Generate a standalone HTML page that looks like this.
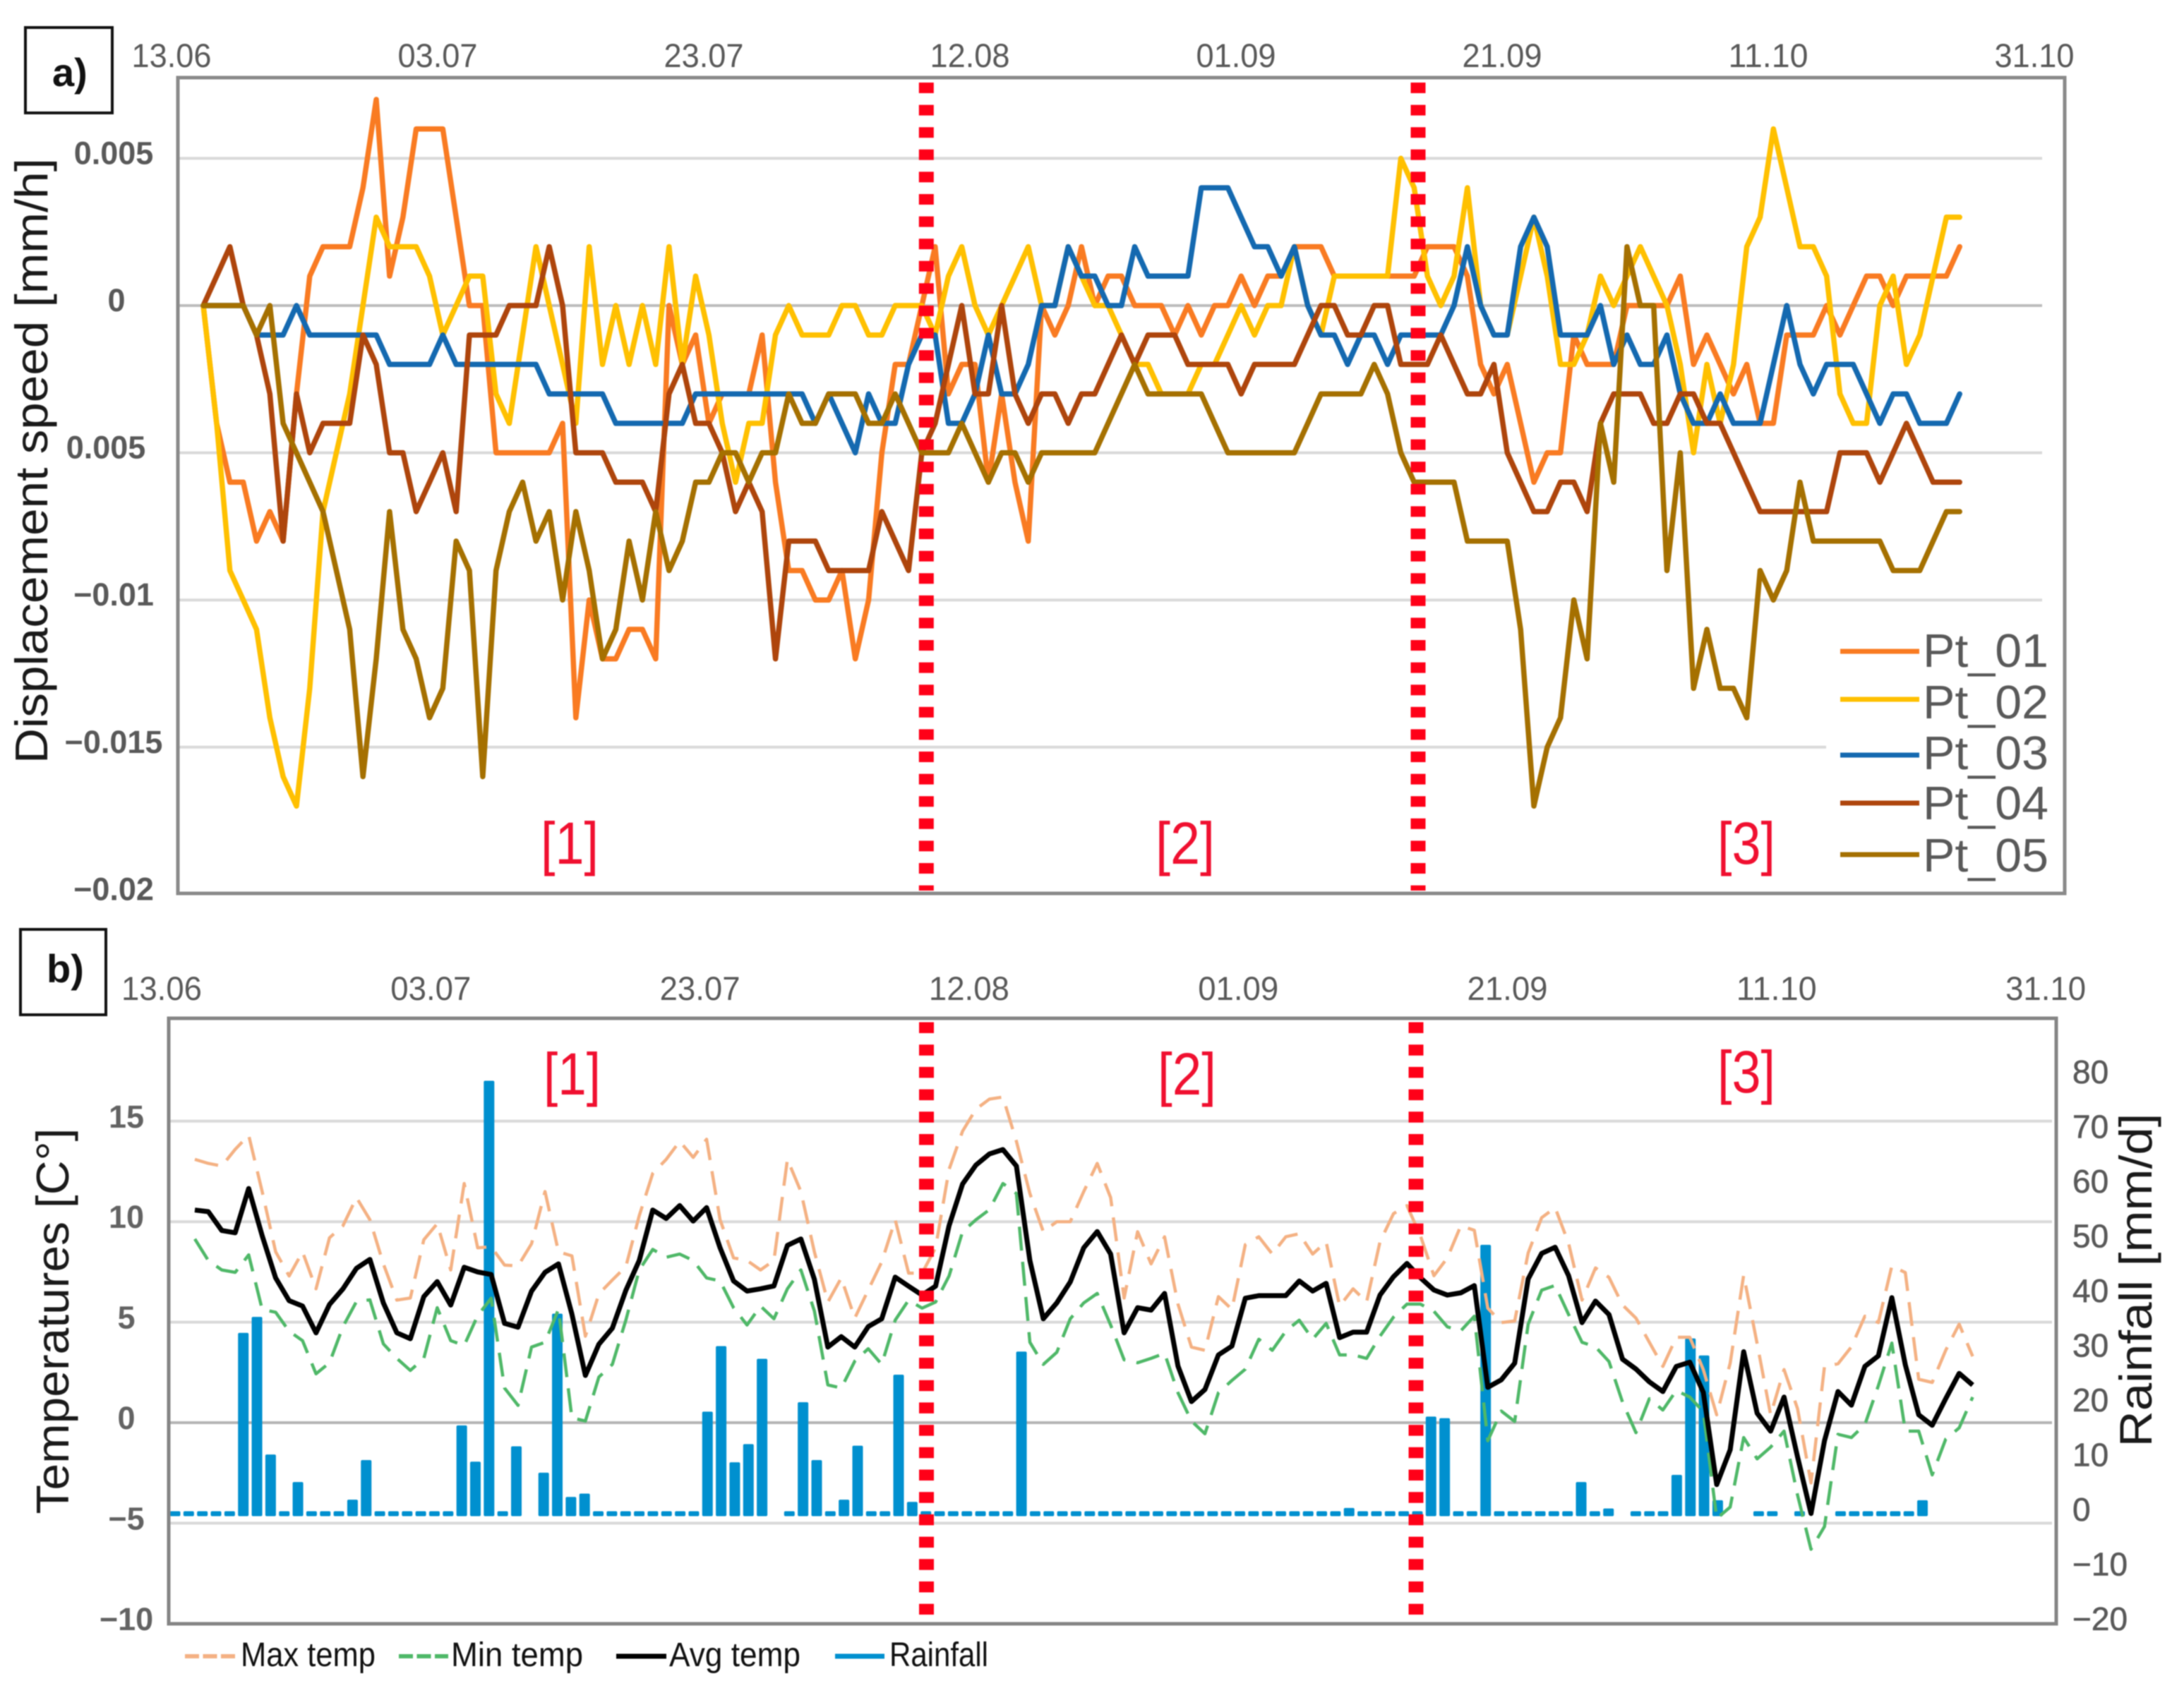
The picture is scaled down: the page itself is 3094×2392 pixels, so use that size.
<!DOCTYPE html>
<html lang="en">
<head>
<meta charset="utf-8">
<title>Displacement speed and temperature charts</title>
<style>
html,body{margin:0;padding:0;background:#fff;}
svg{display:block;font-family:"Liberation Sans",Arial,sans-serif;filter:blur(0.7px);}
.date{font-size:47px;fill:#595959;text-anchor:middle;}
.tick-a{font-size:45px;font-weight:bold;fill:#595959;text-anchor:middle;}
.tick-b{font-size:45px;font-weight:bold;fill:#636363;text-anchor:middle;}
.tick-r{font-size:46px;fill:#595959;stroke:#595959;stroke-width:.6;text-anchor:start;}
.title{font-size:65px;fill:#1a1a1a;text-anchor:middle;}
.phase{font-size:84px;fill:#f01030;}
.leg-a{font-size:67px;fill:#595959;}
.leg-b{font-size:48px;fill:#111;}
.panel{font-size:56px;font-weight:bold;fill:#111;}
</style>
</head>
<body>
<svg id="fig" xmlns="http://www.w3.org/2000/svg" width="3094" height="2392" viewBox="0 0 3094 2392">
  <rect x="0" y="0" width="3094" height="2392" fill="#fff"/>

  <g id="gridA"></g>
  <g id="seriesA"></g>
  <rect x="2587" y="880" width="300" height="378" fill="#fff"/>
  <g id="marksA"></g>
  <rect x="252" y="110" width="2673" height="1156" fill="none" stroke="#8a8a8a" stroke-width="5"/>
  <g id="ticksA"></g>
  <g id="datesA"></g>

  <rect x="36" y="39" width="123" height="121" fill="#fff" stroke="#111" stroke-width="4"/>
  <text class="panel" x="74" y="122">a)</text>
  <text class="title" transform="translate(67,653) rotate(-90)" textLength="858" lengthAdjust="spacingAndGlyphs">Displacement speed [mm/h]</text>
  <text class="phase" x="766" y="1224" textLength="82" lengthAdjust="spacingAndGlyphs">[1]</text>
  <text class="phase" x="1637" y="1224" textLength="84" lengthAdjust="spacingAndGlyphs">[2]</text>
  <text class="phase" x="2433" y="1224" textLength="82" lengthAdjust="spacingAndGlyphs">[3]</text>

  <g>
    <line x1="2607" x2="2719" y1="923" y2="923" stroke="#F97B22" stroke-width="7"/>
    <text class="leg-a" x="2724" y="945" textLength="178" lengthAdjust="spacingAndGlyphs">Pt_01</text>
    <line x1="2607" x2="2719" y1="991" y2="991" stroke="#FFC000" stroke-width="7"/>
    <text class="leg-a" x="2724" y="1018" textLength="178" lengthAdjust="spacingAndGlyphs">Pt_02</text>
    <line x1="2607" x2="2719" y1="1070" y2="1070" stroke="#1469B0" stroke-width="7"/>
    <text class="leg-a" x="2724" y="1090" textLength="178" lengthAdjust="spacingAndGlyphs">Pt_03</text>
    <line x1="2607" x2="2719" y1="1138" y2="1138" stroke="#AE450C" stroke-width="7"/>
    <text class="leg-a" x="2724" y="1161" textLength="178" lengthAdjust="spacingAndGlyphs">Pt_04</text>
    <line x1="2607" x2="2719" y1="1211" y2="1211" stroke="#A57000" stroke-width="7"/>
    <text class="leg-a" x="2724" y="1235" textLength="178" lengthAdjust="spacingAndGlyphs">Pt_05</text>
  </g>

  <g id="gridB"></g>
  <g id="barsB"></g>
  <g id="seriesB"></g>
  <g id="marksB"></g>
  <rect x="239" y="1443" width="2674" height="858" fill="none" stroke="#858585" stroke-width="5"/>
  <g id="ticksB"></g>
  <g id="ticksR"></g>
  <g id="datesB"></g>

  <rect x="29" y="1317" width="121" height="121" fill="#fff" stroke="#111" stroke-width="4"/>
  <text class="panel" x="66" y="1392">b)</text>
  <text class="title" transform="translate(97,1872) rotate(-90)" textLength="547" lengthAdjust="spacingAndGlyphs">Temperatures [C°]</text>
  <text class="title" transform="translate(3048,1814) rotate(-90)" textLength="473" lengthAdjust="spacingAndGlyphs">Rainfall [mm/d]</text>
  <text class="phase" x="770" y="1551" textLength="81" lengthAdjust="spacingAndGlyphs">[1]</text>
  <text class="phase" x="1640" y="1551" textLength="83" lengthAdjust="spacingAndGlyphs">[2]</text>
  <text class="phase" x="2433" y="1548" textLength="82" lengthAdjust="spacingAndGlyphs">[3]</text>

  <g>
    <line x1="262" x2="333" y1="2347" y2="2347" stroke="#F4B183" stroke-width="6" stroke-dasharray="20 5.5"/>
    <text class="leg-b" x="341" y="2361" textLength="191" lengthAdjust="spacingAndGlyphs">Max temp</text>
    <line x1="565" x2="635" y1="2347" y2="2347" stroke="#4FB868" stroke-width="6" stroke-dasharray="20 5.5"/>
    <text class="leg-b" x="639" y="2361" textLength="187" lengthAdjust="spacingAndGlyphs">Min temp</text>
    <line x1="873" x2="944" y1="2347" y2="2347" stroke="#000" stroke-width="7"/>
    <text class="leg-b" x="948" y="2361" textLength="186" lengthAdjust="spacingAndGlyphs">Avg temp</text>
    <line x1="1183" x2="1253" y1="2347" y2="2347" stroke="#0090CF" stroke-width="7"/>
    <text class="leg-b" x="1260" y="2361" textLength="140" lengthAdjust="spacingAndGlyphs">Rainfall</text>
  </g>
</svg>
<script>
// Panel a: displacement speed, in thousandths of mm/h
const pt01 = [0,-4,-6,-6,-8,-7,-8,-3,1,2, 2,2,4,7,1,3,6,6,6,3, 0,0,-5,-5,-5,-5,-5,-4,-14,-10, -12,-12,-11,-11,-12,0,-2,-1,-4,-3, -3,-3,-1,-6,-9,-9,-10,-10,-9,-12, -10,-5,-2,-2,0,2,-3,-2,-2,-6, -3,-6,-8,0,-1,0,2,0,1,1, 0,0,0,-1,0,-1,0,0,1,0, 1,1,2,2,2,1,1,1,1,1, 1,1,2,2,2,1,-2,-3,-2,-4, -6,-5,-5,-1,-2,-2,-2,0,0,0, 0,1,-2,-1,-2,-3,-2,-4,-4,-1, -1,-1,0,-1,0,1,1,0,1,1, 1,1,2];
const pt02 = [0,-4,-9,-10,-11,-14,-16,-17,-13,-7, -5,-3,0,3,2,2,2,1,-1,0, 1,1,-3,-4,-1,2,0,-2,-4,2, -2,0,-2,0,-2,2,-2,1,-1,-4, -6,-4,-4,-1,0,-1,-1,-1,0,0, -1,-1,0,0,0,-1,1,2,0,-1, 0,1,2,0,0,2,1,0,0,-1, -2,-2,-3,-3,-3,-2,-2,-1,0,-1, 0,0,2,0,-1,1,1,1,1,1, 5,4,1,0,1,4,0,-1,-1,1, 3,1,-2,-2,-1,1,0,1,2,1, 0,-2,-5,-2,-4,-2,2,3,6,4, 2,2,1,-3,-4,-4,0,1,-2,-1, 1,3,3];
const pt03 = [0,0,0,0,-1,-1,-1,0,-1,-1, -1,-1,-1,-1,-2,-2,-2,-2,-1,-2, -2,-2,-2,-2,-2,-2,-3,-3,-3,-3, -3,-4,-4,-4,-4,-4,-4,-3,-3,-3, -3,-3,-3,-3,-3,-3,-4,-3,-4,-5, -3,-4,-4,-2,-1,-1,-4,-4,-3,-1, -3,-3,-2,0,0,2,1,1,0,0, 2,1,1,1,1,4,4,4,3,2, 2,1,2,0,-1,-1,-2,-1,-1,-2, -1,-1,-1,-1,0,2,0,-1,-1,2, 3,2,-1,-1,-1,0,-2,-1,-2,-2, -1,-3,-4,-4,-3,-4,-4,-4,-2,0, -2,-3,-2,-2,-2,-3,-4,-3,-3,-4, -4,-4,-3];
const pt04 = [0,1,2,0,-1,-3,-8,-3,-5,-4, -4,-4,-1,-2,-5,-5,-7,-6,-5,-7, -1,-1,-1,0,0,0,2,0,-5,-5, -5,-6,-6,-6,-7,-3,-2,-4,-4,-5, -7,-6,-7,-12,-8,-8,-8,-9,-9,-9, -9,-7,-8,-9,-5,-4,-2,0,-3,-3, 0,-3,-4,-3,-3,-4,-3,-3,-2,-1, -2,-1,-1,-1,-2,-2,-2,-2,-3,-2, -2,-2,-2,-1,0,0,-1,-1,0,0, -2,-2,-2,-1,-2,-3,-3,-2,-5,-6, -7,-7,-6,-6,-7,-4,-3,-3,-3,-4, -4,-3,-3,-4,-4,-5,-6,-7,-7,-7, -7,-7,-7,-5,-5,-5,-6,-5,-4,-5, -6,-6,-6];
const pt05 = [0,0,0,0,-1,0,-4,-5,-6,-7, -9,-11,-16,-12,-7,-11,-12,-14,-13,-8, -9,-16,-9,-7,-6,-8,-7,-10,-7,-9, -12,-11,-8,-10,-7,-9,-8,-6,-6,-5, -5,-6,-5,-5,-3,-4,-4,-3,-3,-3, -4,-4,-3,-4,-5,-5,-5,-4,-5,-6, -5,-5,-6,-5,-5,-5,-5,-5,-4,-3, -2,-3,-3,-3,-3,-3,-4,-5,-5,-5, -5,-5,-5,-4,-3,-3,-3,-3,-2,-3, -5,-6,-6,-6,-6,-8,-8,-8,-8,-11, -17,-15,-14,-10,-12,-4,-6,2,0,0, -9,-5,-13,-11,-13,-13,-14,-9,-10,-9, -6,-8,-8,-8,-8,-8,-8,-9,-9,-9, -8,-7,-7];

// Panel b: temperatures in degrees C, rainfall in mm/d
const tempMax = [13.1,12.9,12.77,13.6,14.3,11.5,8.5,7.3,8.5,6.66, 9.2,9.8,11.2,10.1,7.9,6.1,6.2,9.1,9.9,7.6, 11.9,8.7,8.75,7.84,7.8,8.9,11.5,8.5,8.3,4.3, 6.4,7.1,7.76,10.3,12.4,13.1,14,13.2,14.1,10.1, 8.2,8.07,7.6,8.07,13.1,11.5,8.5,6,7.2,5.2, 6.6,8,10.1,7.44,7.44,8.7,12.6,14.5,15.6,16.1, 16.2,14,11.4,9.5,10,10,11.5,12.9,11.2,6.2, 9.5,7.9,9.25,5.9,3.76,3.6,6.27,5.64,8.86,9.25, 8.39,9.25,9.4,8.39,9,5.8,6.66,6,9,10.4, 10.8,9.3,7.31,8.2,9.8,9.57,5.7,4.98,5.06,8.44, 10.2,10.7,8.92,6.1,7.7,7.23,5.86,5.2,4,2.8, 4.25,4.25,2.64,0.39,2.96,7.34,3.93,0.39,2.64,0.7, -3,2.8,2.93,3.77,5.3,4.98,7.8,7.47,2.16,2, 3.6,4.9,3.3];
const tempMin = [9.14,8.07,7.6,7.48,8.35,5.64,5.49,4.55,4.08,2.43, 2.98,4.78,6.03,6.11,3.92,3.2,2.6,3.2,5.72,4.08, 3.84,5.33,6.19,1.72,0.86,3.76,4,5.64,0.24,0.08, 2.27,2.9,5.1,7.6,8.62,8.23,8.39,8.07,7.2,7.05, 5.72,4.86,5.8,5.17,6.66,7.6,5.56,1.88,1.72,3.06, 3.68,2.9,5.1,6.1,5.7,6,7.3,9.5,10.1,10.6, 11.9,11.4,4,2.9,3.5,5.17,5.96,6.43,4.86,3.13, 2.98,3.2,3.45,1.49,0.08,-0.55,1.49,2.1,2.66,4.15, 3.6,4.55,5.1,4.15,4.94,3.37,3.37,3.2,4.3,5.25, 5.9,5.9,5.54,4.77,4.57,5.3,-0.9,0.58,0.06,4.9, 6.59,6.83,5.38,4,3.77,3.04,1.03,-0.5,1.19,0.63, 1.6,1.27,0.55,-4.77,-4.2,-0.74,-1.8,-1.22,-0.42,-3.6, -6.3,-5.17,-0.58,-0.74,-0.1,1.84,3.96,-0.42,-0.42,-2.6, -0.82,-0.26,1.27];
const tempAvg = [10.58,10.5,9.56,9.45,11.65,9.3,7.2,6.07,5.8,4.47, 5.88,6.66,7.68,8.12,5.96,4.47,4.18,6.27,7.02,5.85, 7.73,7.5,7.37,4.94,4.75,6.54,7.48,7.9,5.4,2.35, 3.9,4.7,6.58,8.07,10.58,10.16,10.8,10.03,10.7,8.7, 7.05,6.55,6.66,6.8,8.82,9.14,7.13,3.76,4.28,3.76, 4.78,5.17,7.24,6.79,6.35,6.79,9.8,11.87,12.82,13.37, 13.59,12.77,8.07,5.17,5.96,7,8.7,9.51,8.39,4.47, 5.72,5.6,6.43,2.82,1.05,1.65,3.37,3.81,6.19,6.32, 6.32,6.32,7.05,6.55,6.93,4.23,4.5,4.5,6.35,7.26, 7.92,7.21,6.6,6.35,6.46,6.82,1.76,2.13,2.96,7.15, 8.42,8.73,7.31,4.98,6.05,5.38,3.16,2.67,2.03,1.55, 2.8,3.01,1.51,-3.08,-1.35,3.53,0.47,-0.42,1.27,-1.7, -4.52,-0.9,1.55,0.87,2.8,3.32,6.22,2.88,0.39,-0.13, 1.19,2.45,1.87];
const rainfall = [0,0,0,0,0,32.4,35.3,10.3,0,5.3, 0,0,0,2.1,9.3,0,0,0,0,0, 0,15.6,9,78.2,0,11.8,null,7,35.9,2.6, 3.2,0,0,0,0,0,0,0,0,18.1, 30,8.9,12.2,27.7,null,0,19.8,9.3,0,2.1, 11.9,0,0,24.8,1.7,0,0,0,0,0, 0,0,29,0,0,0,0,0,0,0, 0,0,0,0,0,0,0,0,0,0, 0,0,0,0,0,0,0.6,0,0,0, 0,0,17.2,16.9,0,0,48.4,0,0,0, 0,0,0,5.3,0,0.5,null,0,0,0, 6.6,31.4,28.3,2,null,null,0,0,null,0, null,null,0,0,0,0,0,0,2];

// Axis categories and tick labels
const dateLabels = ['13.06','03.07','23.07','12.08','01.09','21.09','11.10','31.10'];
const tickValuesA = [5,0,-5,-10,-15,-20];
const tickLabelsA = ['0.005','0','0.005','\u22120.01','\u22120.015','\u22120.02'];
const tickValuesB = [15,10,5,0,-5,-10];
const tickLabelsB = ['15','10','5','0','\u22125','\u221210'];
const rainTickValues = [80,70,60,50,40,30,20,10,0,-10,-20];
const rainTickLabels = ['80','70','60','50','40','30','20','10','0','\u221210','\u221220'];

const NS = 'http://www.w3.org/2000/svg';

// Axis functions
function xA(i){ return 288 + 18.85 * i; }
function yA(v){ return 433 - 41.72 * v; }
function dateXA(k){ return 243 + 377 * k; }
function xB(i){ return 276 + 19.08 * i; }
function yB(t){ return 2016 - 28.48 * t; }
function xRain(j){ return 248 + 19.34 * j; }
function yRain(r){ return 2145 - 7.8 * r; }
function yRainTick(v){ return 2139 - 7.75 * v; }
function dateXB(k){ return 229 + 381.3 * k; }

function make(tag, parent, attrs, text){
  const el = document.createElementNS(NS, tag);
  for (const k in attrs) el.setAttribute(k, attrs[k]);
  if (text !== undefined) el.textContent = text;
  parent.appendChild(el);
  return el;
}
function pathFrom(values, xf, yf){
  return values.map((v, i) => (i ? 'L' : 'M') + xf(i).toFixed(1) + ' ' + yf(v).toFixed(1)).join(' ');
}

// Panel a gridlines
const gridA = document.getElementById('gridA');
tickValuesA.forEach(v => {
  if (v === -20) return;
  const g = make('line', gridA, {x1:252, x2:2893, y1:yA(v), y2:yA(v), stroke:v === 0 ? '#BDBDBD' : '#D9D9D9', 'stroke-width':4});
  
  
});

// Panel a series
const seriesA = [
  {key:'pt-01', values:pt01, color:'#F97B22'},
  {key:'pt-02', values:pt02, color:'#FFC000'},
  {key:'pt-03', values:pt03, color:'#1469B0'},
  {key:'pt-04', values:pt04, color:'#AE450C'},
  {key:'pt-05', values:pt05, color:'#A57000'}
];
const seriesAGroup = document.getElementById('seriesA');
seriesA.forEach(s => {
  const p = make('path', seriesAGroup, {d:pathFrom(s.values, xA, yA), fill:'none', stroke:s.color, 'stroke-width':7.5, 'stroke-linejoin':'round', 'stroke-linecap':'round'});
  
  
});

// Phase divider lines
const marksA = document.getElementById('marksA');
[1312.3, 2009].forEach(x => {
  const l = make('line', marksA, {x1:x, x2:x, y1:117, y2:1262, stroke:'#FF0018', 'stroke-width':21, 'stroke-dasharray':'15 16.6'});
  
  
});
const marksB = document.getElementById('marksB');
[1312.5, 2006].forEach(x => {
  const l = make('line', marksB, {x1:x, x2:x, y1:1448.5, y2:2288, stroke:'#FF0018', 'stroke-width':21, 'stroke-dasharray':'15.5 16.2'});
  
  
});

// Panel a tick labels
const ticksA = document.getElementById('ticksA');
tickLabelsA.forEach((label, n) => {
  const v = tickValuesA[n];
  const cx = v === -5 ? 150 : (v === 0 ? 165 : 161);
  const t = make('text', ticksA, {class:'tick-a', x:cx, y:yA(v) + 8}, label);
  
  
});

// Date axes
const datesA = document.getElementById('datesA');
const datesB = document.getElementById('datesB');
dateLabels.forEach((label, k) => {
  const a = make('text', datesA, {class:'date', x:dateXA(k), y:95, textLength:113, lengthAdjust:'spacingAndGlyphs'}, label);
  
  
  const b = make('text', datesB, {class:'date', x:dateXB(k), y:1417, textLength:114, lengthAdjust:'spacingAndGlyphs'}, label);
  
  
});

// Panel b gridlines
const gridB = document.getElementById('gridB');
tickValuesB.forEach(v => {
  if (v === -10) return;
  const g = make('line', gridB, {x1:239, x2:2907, y1:yB(v), y2:yB(v), stroke:v === 0 ? '#B5B5B5' : '#D9D9D9', 'stroke-width':4});
  
  
});

// Rainfall bars
const barsB = document.getElementById('barsB');
rainfall.forEach((r, j) => {
  if (r === null) return;
  const top = yRain(r) - 3.5;
  const bar = make('rect', barsB, {x:xRain(j) - 7.5, y:top, width:15, height:yRain(0) + 3.5 - top, rx:2, fill:'#0090CF'});
  
  
});

// Temperature series
const seriesB = [
  {key:'max-temp', values:tempMax, color:'#F4B183', width:4.5, dash:'34 16'},
  {key:'min-temp', values:tempMin, color:'#4FB868', width:4.5, dash:'34 16'},
  {key:'avg-temp', values:tempAvg, color:'#000000', width:7, dash:'none'}
];
const seriesBGroup = document.getElementById('seriesB');
seriesB.forEach(s => {
  const p = make('path', seriesBGroup, {d:pathFrom(s.values, xB, yB), fill:'none', stroke:s.color, 'stroke-width':s.width, 'stroke-dasharray':s.dash, 'stroke-linejoin':'round'});
  
  
});

// Panel b tick labels
const ticksB = document.getElementById('ticksB');
tickLabelsB.forEach((label, n) => {
  const t = make('text', ticksB, {class:'tick-b', x:179, y:yB(tickValuesB[n]) + 9}, label);
  
  
});
const ticksR = document.getElementById('ticksR');
rainTickLabels.forEach((label, n) => {
  const t = make('text', ticksR, {class:'tick-r', x:2936, y:yRainTick(rainTickValues[n]) + 16}, label);
  
  
});
</script>
</body>
</html>
